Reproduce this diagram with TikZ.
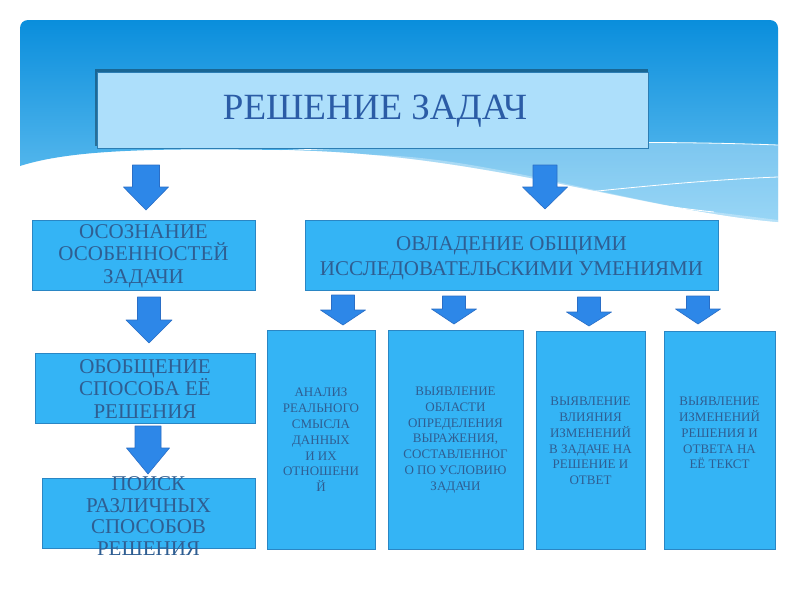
\documentclass[tikz,border=0pt]{standalone}
\usepackage{fontspec}
\setmainfont{Liberation Serif}
\definecolor{bgtop}{HTML}{0A8EDC}
\definecolor{bgbot}{HTML}{6CC4F2}
\definecolor{boxfill}{HTML}{34B4F5}
\definecolor{boxline}{HTML}{2A86C4}
\definecolor{titlefill}{HTML}{ADDFFB}
\definecolor{titleline}{HTML}{2C7EB4}
\definecolor{txt}{HTML}{2F5E92}
\definecolor{titletxt}{HTML}{2B5CA6}
\definecolor{arrfill}{HTML}{2D87E8}
\definecolor{arrline}{HTML}{2A6EC6}
\tikzset{
  box/.style={draw=boxline, line width=0.8pt, fill=boxfill, inner sep=0pt, anchor=center},
  bigtxt/.style={text=txt, align=center, inner sep=0pt, font=\fontsize{21}{22.5}\selectfont},
  smalltxt/.style={text=txt, align=center, inner sep=0pt, font=\fontsize{13}{15.8}\selectfont},
  arrowbody/.style={fill=arrfill, draw=arrline, line width=0.6pt, line join=round},
}
\newcommand{\blkarrow}[6]{% cx, top, base, tip, shaft half width, head half width
  \path[arrowbody] (#1-#5,#2) -- (#1+#5,#2) -- (#1+#5,#3) -- (#1+#6,#3) -- (#1,#4) -- (#1-#6,#3) -- (#1-#5,#3) -- cycle;}
\begin{document}
\begin{tikzpicture}[x=1pt,y=-1pt]
\useasboundingbox (0,0) rectangle (800,600);
\fill[white] (0,0) rectangle (800,600);
% background header
\path[top color=bgtop, bottom color=bgbot]
  (20,166) [rounded corners=8pt] -- (20,20) -- (778,20) [sharp corners] -- (778,222)
  .. controls (640,210) and (480,152) .. (280,150)
  .. controls (150,148) and (70,150) .. (20,166) -- cycle;
% lighter wave bands
\fill[white, opacity=0.3] (255,152) .. controls (450,142) and (650,140) .. (778,145)
  -- (778,222) .. controls (640,210) and (480,152) .. (280,150) -- cycle;
\fill[white, opacity=0.3] (357,155) .. controls (480,170) and (600,200) .. (714,212)
  -- (778,220) -- (778,222) .. controls (640,210) and (480,152) .. (357,155) -- cycle;
\draw[white, line width=0.8pt] (255,152) .. controls (450,142) and (650,140) .. (778,145);
\draw[white, line width=0.8pt] (357,155) .. controls (480,170) and (600,200) .. (714,212);
\draw[white, line width=0.8pt] (490,203) .. controls (600,190) and (700,180) .. (778,177);
% title
\fill[black!60!titleline, opacity=0.5] (95,69) rectangle (648,146);
\node[draw=titleline, line width=1pt, fill=titlefill, minimum width=551pt, minimum height=76pt, inner sep=0pt] (title) at (372.5,110) {};
\node[text=titletxt, inner sep=0pt, font=\fontsize{37}{40}\selectfont] (titletext) at (375,111.5) {РЕШЕНИЕ ЗАДАЧ};
% boxes, left column
\node[box, minimum width=223pt, minimum height=70pt] (b1) at (143.5,255) {};
\node[bigtxt] (t1) at (143.5,256) {ОСОЗНАНИЕ\\ОСОБЕННОСТЕЙ\\ЗАДАЧИ};
\node[box, minimum width=220pt, minimum height=70pt] (b2) at (145,388) {};
\node[bigtxt] (t2) at (145,389) {ОБОБЩЕНИЕ\\СПОСОБА ЕЁ\\РЕШЕНИЯ};
\node[box, minimum width=213pt, minimum height=70pt] (b3) at (148.5,513) {};
% right group
\node[box, minimum width=413pt, minimum height=70pt] (b4) at (511.5,255) {};
\node[bigtxt, font=\fontsize{21}{25}\selectfont] (t4) at (511.5,258) {ОВЛАДЕНИЕ ОБЩИМИ\\ИССЛЕДОВАТЕЛЬСКИМИ УМЕНИЯМИ};
\node[box, minimum width=108pt, minimum height=219pt] (c1) at (321,439.5) {};
\node[smalltxt] (u1) at (321,440) {АНАЛИЗ\\РЕАЛЬНОГО\\СМЫСЛА\\ДАННЫХ\\И ИХ\\ОТНОШЕНИ\\Й};
\node[box, minimum width=135pt, minimum height=219pt] (c2) at (455.5,439.5) {};
\node[smalltxt] (u2) at (455.5,440) {ВЫЯВЛЕНИЕ\\ОБЛАСТИ\\ОПРЕДЕЛЕНИЯ\\ВЫРАЖЕНИЯ,\\СОСТАВЛЕННОГ\\О ПО УСЛОВИЮ\\ЗАДАЧИ};
\node[box, minimum width=109pt, minimum height=218pt] (c3) at (590.5,440.5) {};
\node[smalltxt] (u3) at (590.5,441) {ВЫЯВЛЕНИЕ\\ВЛИЯНИЯ\\ИЗМЕНЕНИЙ\\В ЗАДАЧЕ НА\\РЕШЕНИЕ И\\ОТВЕТ};
\node[box, minimum width=111pt, minimum height=218pt] (c4) at (719.5,440.5) {};
\node[smalltxt] (u4) at (719.5,433) {ВЫЯВЛЕНИЕ\\ИЗМЕНЕНИЙ\\РЕШЕНИЯ И\\ОТВЕТА НА\\ЕЁ ТЕКСТ};
% arrows
\blkarrow{146}{165}{187}{210}{13.5}{22.5}
\blkarrow{545}{165}{187}{209}{12}{22.5}
\blkarrow{149}{297}{320}{343}{11.5}{23}
\blkarrow{148}{426}{448}{474}{13}{21.5}
\blkarrow{343}{295}{310}{325}{11.5}{22.5}
\blkarrow{454}{296}{309}{324}{11.5}{22.5}
\blkarrow{589}{297}{312}{326}{11.5}{22.5}
\blkarrow{698}{296}{309}{324}{11.5}{22.5}
% text overflowing the last left box (drawn over the arrow)
\node[bigtxt, font=\fontsize{21}{21.8}\selectfont] (t3) at (148.5,516) {ПОИСК\\РАЗЛИЧНЫХ\\СПОСОБОВ\\РЕШЕНИЯ};
\end{tikzpicture}
\end{document}
